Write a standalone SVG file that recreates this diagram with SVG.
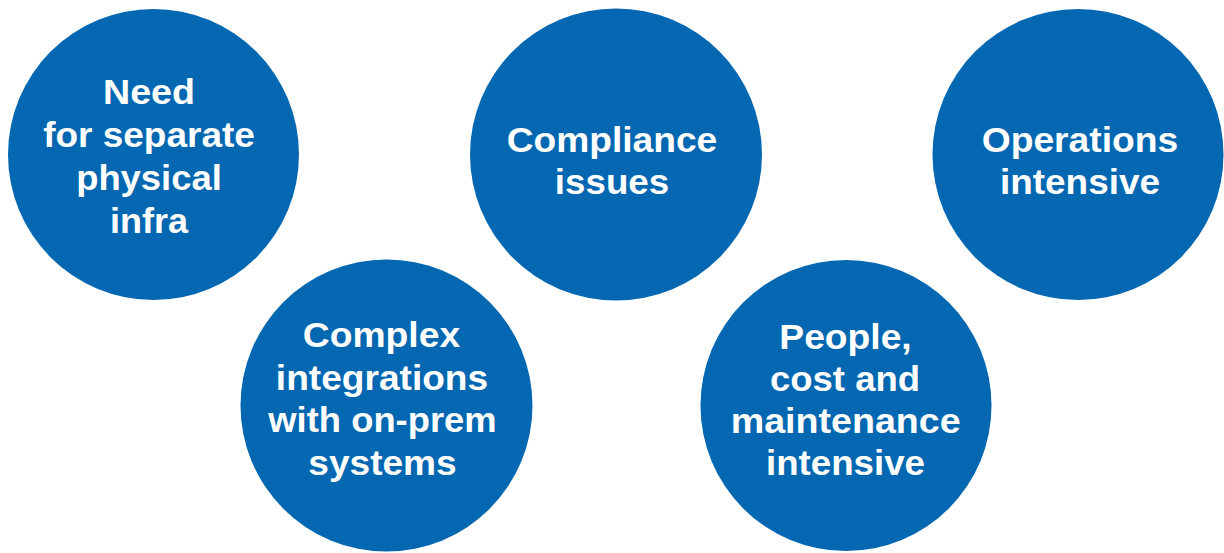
<svg xmlns="http://www.w3.org/2000/svg" width="1224" height="553" viewBox="0 0 1224 553">
<style>
.c{fill:#0467B1}
.t{fill:#fff;font-family:"Liberation Sans",Arial,sans-serif;font-weight:bold;font-size:35px;text-anchor:middle}
</style>
<rect width="1224" height="553" fill="#fff"/>
<g id="connectors"/>
<g id="n1">
<circle class="c" cx="153.5" cy="154.5" r="145.5"/>
<text class="t" x="149" y="104" textLength="92" lengthAdjust="spacingAndGlyphs">Need</text>
<text class="t" x="149" y="147" textLength="211.7" lengthAdjust="spacingAndGlyphs">for separate</text>
<text class="t" x="149" y="190" textLength="145.7" lengthAdjust="spacingAndGlyphs">physical</text>
<text class="t" x="149" y="233" textLength="78" lengthAdjust="spacingAndGlyphs">infra</text>
</g>
<g id="n2">
<circle class="c" cx="616" cy="154.5" r="146"/>
<text class="t" x="612" y="152" textLength="210.6" lengthAdjust="spacingAndGlyphs">Compliance</text>
<text class="t" x="612" y="194" textLength="114.3" lengthAdjust="spacingAndGlyphs">issues</text>
</g>
<g id="n3">
<circle class="c" cx="1078" cy="154.5" r="145.5"/>
<text class="t" x="1080" y="152" textLength="196.6" lengthAdjust="spacingAndGlyphs">Operations</text>
<text class="t" x="1080" y="194" textLength="160" lengthAdjust="spacingAndGlyphs">intensive</text>
</g>
<g id="n4">
<circle class="c" cx="386.5" cy="405.5" r="146"/>
<text class="t" x="381.5" y="347" textLength="157.3" lengthAdjust="spacingAndGlyphs">Complex</text>
<text class="t" x="382" y="389.5" textLength="212.3" lengthAdjust="spacingAndGlyphs">integrations</text>
<text class="t" x="382.5" y="432" textLength="228.4" lengthAdjust="spacingAndGlyphs">with on-prem</text>
<text class="t" x="382.5" y="474.5" textLength="148.4" lengthAdjust="spacingAndGlyphs">systems</text>
</g>
<g id="n5">
<circle class="c" cx="846" cy="405.5" r="145.5"/>
<text class="t" x="845.5" y="349" textLength="132.4" lengthAdjust="spacingAndGlyphs">People,</text>
<text class="t" x="845" y="391" textLength="150" lengthAdjust="spacingAndGlyphs">cost and</text>
<text class="t" x="845.7" y="433" textLength="230" lengthAdjust="spacingAndGlyphs">maintenance</text>
<text class="t" x="845.5" y="475" textLength="159" lengthAdjust="spacingAndGlyphs">intensive</text>
</g>
</svg>
